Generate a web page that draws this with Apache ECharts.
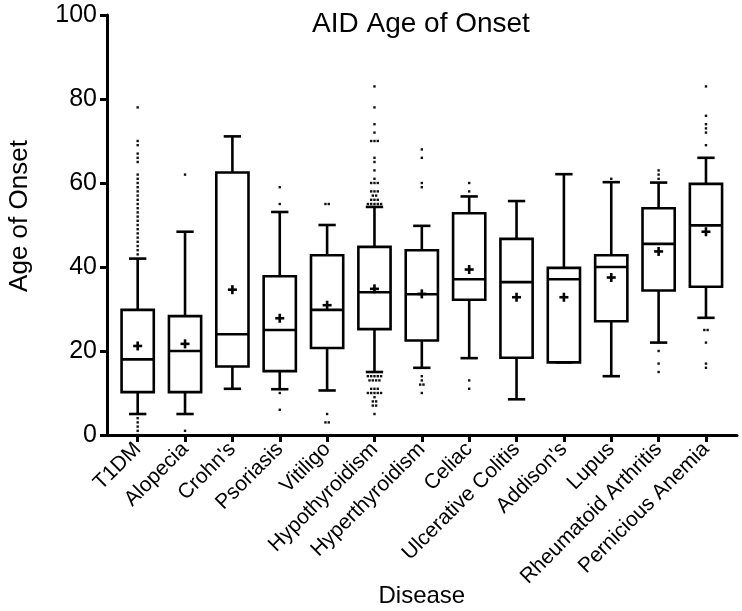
<!DOCTYPE html>
<html>
<head>
<meta charset="utf-8">
<script src="https://cdn.jsdelivr.net/npm/echarts@6/dist/echarts.min.js"></script>
<style>
html,body{margin:0;padding:0;background:#fff;}
#chart{width:742px;height:611px;}
</style>
</head>
<body>
<div id="chart"></div>
<script>
const categories = ['T1DM','Alopecia',"Crohn's",'Psoriasis','Vitiligo','Hypothyroidism','Hyperthyroidism','Celiac','Ulcerative Colitis',"Addison's",'Lupus','Rheumatoid Arthritis','Pernicious Anemia'];
const whiskerLow  = [5, 5, 11, 10.9, 10.6, 15, 16, 18.3, 8.5, 17.3, 14, 22, 27.9];
const q1          = [10.2, 10.2, 16.3, 15.2, 20.7, 25.2, 22.5, 32.2, 18.4, 17.3, 27.1, 34.4, 35.3];
const median      = [18, 20, 24, 25, 29.8, 34, 33.5, 37.1, 36.4, 37.1, 40, 45.5, 49.9];
const q3          = [29.8, 28.3, 62.5, 37.8, 42.8, 44.8, 44, 52.8, 46.7, 39.8, 42.8, 54, 59.8];
const whiskerHigh = [42, 48.4, 71.1, 53.1, 50, 54.3, 49.8, 56.8, 55.7, 62.1, 60.2, 60.1, 66];
const meanValues  = [21.2, 21.7, 34.6, 27.8, 30.9, 34.8, 33.6, 39.4, 32.8, 32.8, 37.5, 43.7, 48.4];
const outliers = [
  [0,1,2,3,4,43,44,45,46,47,48,49,50,51,52,53,54,55,56,57,58,59,60,61,62,65,66,67,69,70,78],
  [1,62],
  [],
  [6,10,55,59],
  [3,3,5,55,55],
  [5,7,7,8,8,9,10,10,10,10,10,11,11,11,13,13,13,13,14,14,14,14,14,55,55,55,55,55,56,56,56,57,57,58,58,58,60,60,60,61,63,65,66,70,70,70,72,74,78,83],
  [10,12,12,13,14,59,60,66,68],
  [11,13,58,60],
  [],
  [],
  [61],
  [15,17,20,61,62,63],
  [16,17,22,25,25,69,72,73,74,76,83]
];
const yTicks = [0, 20, 40, 60, 80, 100];

const FONT = "'Liberation Sans', Arial, Helvetica, sans-serif";

const boxData = categories.map((c, i) => [i, whiskerLow[i], q1[i], median[i], q3[i], whiskerHigh[i], meanValues[i]]);
const outlierData = [];
outliers.forEach((vals, i) => {
  const counts = {};
  vals.forEach(v => { counts[v] = (counts[v] || 0) + 1; });
  Object.keys(counts).forEach(k => outlierData.push([i, Number(k), counts[k]]));
});

const chart = echarts.init(document.getElementById('chart'), null, {renderer: 'canvas'});
const LW = 2.6;
const option = {
  backgroundColor: '#fff',
  animation: false,
  title: {
    text: 'AID Age of Onset',
    left: 307, top: 5,
    textStyle: {fontFamily: FONT, fontSize: 28, fontWeight: 'normal', color: '#000'}
  },
  grid: [
    {left: 107, right: 5, top: 15, bottom: 176, containLabel: false, outerBoundsMode: 'none'},
    {left: 114, right: 12.35, top: 15, bottom: 176, containLabel: false, outerBoundsMode: 'none'}
  ],
  xAxis: [
    {gridIndex: 0, type: 'value', min: 0, max: 1, axisLine: {show: true, lineStyle: {color: '#000', width: 3}},
     axisTick: {show: false}, axisLabel: {show: false}, splitLine: {show: false}},
    {gridIndex: 1, type: 'category', data: categories, boundaryGap: true,
     axisLine: {show: false},
     axisTick: {show: true, alignWithLabel: true, length: 7, lineStyle: {color: '#000', width: 3}},
     axisLabel: {rotate: 45, margin: 11, interval: 0, fontFamily: FONT, fontSize: 21, color: '#000'},
     name: 'Disease', nameLocation: 'middle', nameGap: 149, nameMoveOverlap: false,
     nameTextStyle: {fontFamily: FONT, fontSize: 24, color: '#000'},
     splitLine: {show: false}}
  ],
  yAxis: [
    {gridIndex: 0, type: 'value', min: 0, max: 100, interval: 20,
     axisLine: {show: true, lineStyle: {color: '#000', width: 3}},
     axisTick: {show: true, length: 7, lineStyle: {color: '#000', width: 3}},
     axisLabel: {margin: 10, fontFamily: FONT, fontSize: 25, color: '#000',
       formatter: v => yTicks.indexOf(v) >= 0 ? String(v) : ''},
     splitLine: {show: false},
     name: 'Age of Onset', nameLocation: 'middle', nameGap: 74, nameMoveOverlap: false,
     nameTextStyle: {fontFamily: FONT, fontSize: 26, color: '#000', padding: [0, 0, 0, 18]}},
    {gridIndex: 1, type: 'value', min: 0, max: 100, interval: 20, show: false, splitLine: {show: false}}
  ],
  series: [
    {
      type: 'custom', xAxisIndex: 1, yAxisIndex: 1, data: outlierData,
      renderItem: function (params, api) {
        const p = api.coord([api.value(0), api.value(1)]);
        const n = api.value(2);
        const step = 3.3, s = 2.4;
        const children = [];
        for (let k = 0; k < n; k++) {
          const cx = p[0] + (k - (n - 1) / 2) * step;
          children.push({type: 'rect', shape: {x: cx - s / 2, y: p[1] - s / 2, width: s, height: s},
            style: {fill: '#111'}});
        }
        return {type: 'group', children: children};
      }
    },
    {
      type: 'custom', xAxisIndex: 1, yAxisIndex: 1, data: boxData, z: 3,
      renderItem: function (params, api) {
        const i = api.value(0);
        const x = api.coord([i, 0])[0];
        const bw = api.size([1, 0])[0];
        const boxW = bw * 0.68, capW = bw * 0.366;
        const y = v => api.coord([i, v])[1];
        const yLo = y(api.value(1)), yQ1 = y(api.value(2)), yMed = y(api.value(3)),
              yQ3 = y(api.value(4)), yHi = y(api.value(5)), yMean = y(api.value(6));
        const ls = {stroke: '#000', lineWidth: LW, fill: null};
        const m = 4.5;
        return {type: 'group', children: [
          {type: 'line', shape: {x1: x, y1: yQ3, x2: x, y2: yHi}, style: ls},
          {type: 'line', shape: {x1: x - capW / 2, y1: yHi, x2: x + capW / 2, y2: yHi}, style: ls},
          {type: 'line', shape: {x1: x, y1: yQ1, x2: x, y2: yLo}, style: ls},
          {type: 'line', shape: {x1: x - capW / 2, y1: yLo, x2: x + capW / 2, y2: yLo}, style: ls},
          {type: 'rect', shape: {x: x - boxW / 2, y: yQ3, width: boxW, height: yQ1 - yQ3}, style: {stroke: '#000', lineWidth: LW, fill: 'rgba(0,0,0,0)'}},
          {type: 'line', shape: {x1: x - boxW / 2, y1: yMed, x2: x + boxW / 2, y2: yMed}, style: ls},
          {type: 'line', shape: {x1: x - m, y1: yMean, x2: x + m, y2: yMean}, style: ls},
          {type: 'line', shape: {x1: x, y1: yMean - m, x2: x, y2: yMean + m}, style: ls}
        ]};
      }
    }
  ]
};
chart.setOption(option);
</script>
</body>
</html>
